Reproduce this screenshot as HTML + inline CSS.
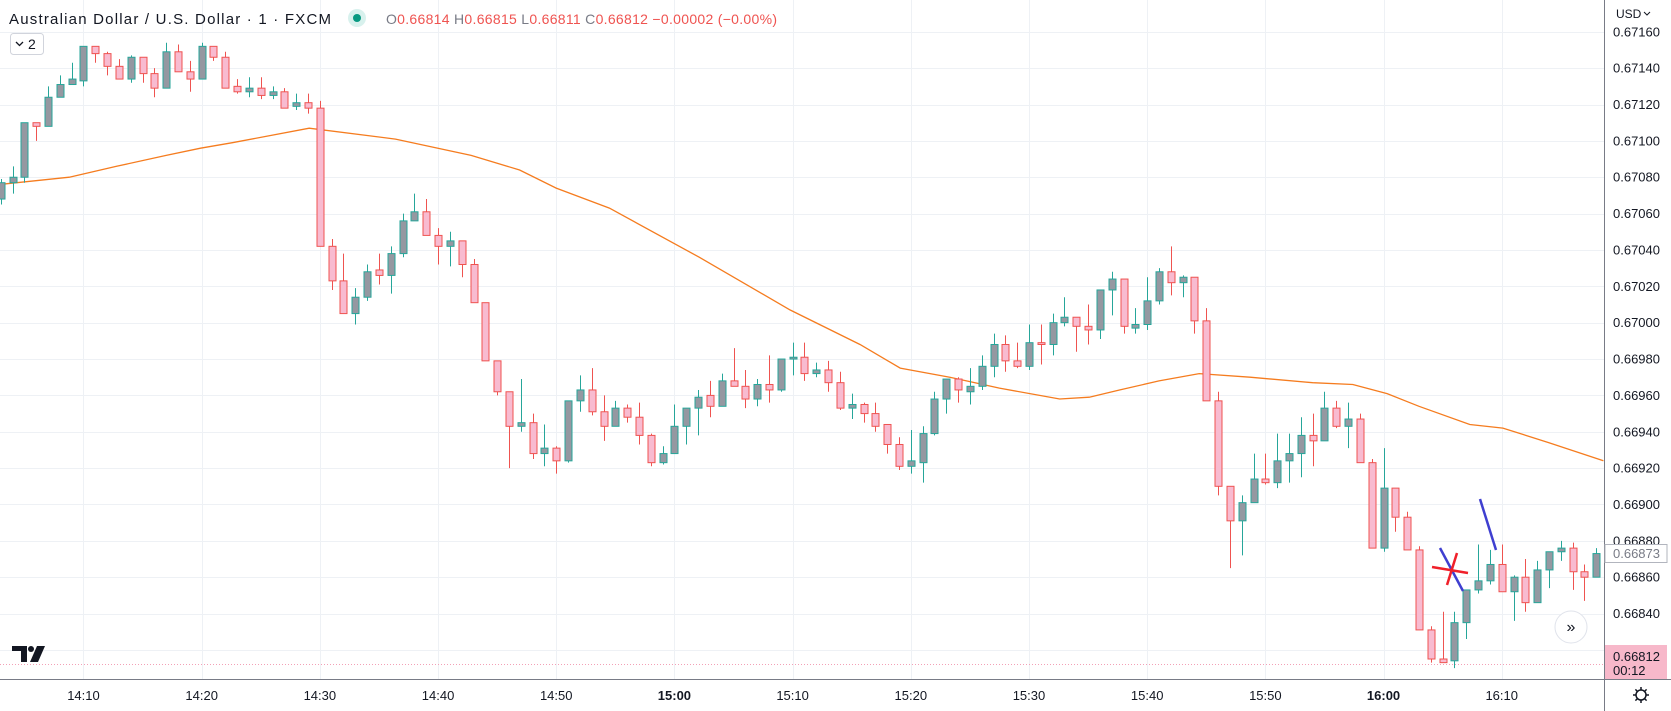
<!DOCTYPE html>
<html><head><meta charset="utf-8">
<style>
html,body{margin:0;padding:0;background:#fff;width:1671px;height:711px;overflow:hidden;font-family:"Liberation Sans",sans-serif;}
svg{display:block}
</style></head>
<body>
<svg id="chart" width="1671" height="711" viewBox="0 0 1671 711">
  <rect x="0" y="0" width="1671" height="711" fill="#fff"/>
  <g id="grid"></g>
  <line x1="0" y1="664.5" x2="1604" y2="664.5" stroke="#f3a0b6" stroke-width="1" stroke-dasharray="1,2"/>
  <g id="ma"></g>
  <g id="candles"></g>
  <g>
    <line x1="1440" y1="548" x2="1463" y2="591" stroke="#3f3fd0" stroke-width="2.5"/>
    <line x1="1480" y1="499" x2="1496" y2="550" stroke="#3f3fd0" stroke-width="2.5"/>
    <line x1="1432" y1="567" x2="1468" y2="573" stroke="#f0202a" stroke-width="2.5"/>
    <line x1="1457" y1="553" x2="1447" y2="585" stroke="#f0202a" stroke-width="2.5"/>
  </g>
  <line x1="0" y1="679.5" x2="1671" y2="679.5" stroke="#787b86" stroke-width="1"/>
  <line x1="1604.5" y1="0" x2="1604.5" y2="711" stroke="#787b86" stroke-width="1"/>
  <g id="yaxis"></g>
  <g id="xaxis"></g>
  <text x="9" y="24" font-size="15" fill="#131722" textLength="322">Australian Dollar / U.S. Dollar · 1 · FXCM</text>
  <circle cx="357" cy="18" r="9" fill="#d8f1ed"/>
  <circle cx="357" cy="18" r="4" fill="#089981"/>
  <text x="386" y="24" font-size="14" fill="#ef5350" textLength="391"><tspan fill="#787b86">O</tspan>0.66814 <tspan fill="#787b86">H</tspan>0.66815 <tspan fill="#787b86">L</tspan>0.66811 <tspan fill="#787b86">C</tspan>0.66812 −0.00002 (−0.00%)</text>
  <g>
    <rect x="10.5" y="33.5" width="33" height="21" rx="3" fill="#fff" stroke="#d1d4dc"/>
    <path d="M16 42 L19.5 45.5 L23 42" fill="none" stroke="#131722" stroke-width="1.3"/>
    <text x="28" y="49" font-size="14" fill="#131722">2</text>
  </g>
  <g>
    <path d="M12 646 H27 V662 H21 V651 H12 Z" fill="#131722"/>
    <circle cx="31" cy="649" r="3" fill="#131722"/>
    <path d="M37 646 H45 L38 662 H30 Z" fill="#131722"/>
  </g>
  <g>
    <circle cx="1571" cy="627" r="16" fill="#fff" stroke="#e0e3eb"/>
    <text x="1571" y="632" font-size="16" text-anchor="middle" fill="#131722">»</text>
  </g>
  <g>
    <text x="1616" y="18" font-size="12" fill="#131722">USD</text>
    <path d="M1644 12 L1647 15 L1650 12" fill="none" stroke="#131722" stroke-width="1"/>
  </g>
  <g>
    <rect x="1605" y="544.5" width="62" height="18" fill="#fff" stroke="#b2b5be"/>
    <text x="1613" y="558" font-size="13" fill="#787b86">0.66873</text>
  </g>
  <g>
    <rect x="1605" y="645" width="62" height="34" fill="#f7b8ca"/>
    <text x="1613" y="661" font-size="13" fill="#131722">0.66812</text>
    <text x="1613" y="675" font-size="13" fill="#131722">00:12</text>
  </g>
  <g transform="translate(1641,695)">
    <circle r="5" fill="none" stroke="#131722" stroke-width="1.5"/>
    <path d="M0-8V-5M0 5V8M-8 0H-5M5 0H8M-5.6-5.6L-3.5-3.5M3.5 3.5L5.6 5.6M-5.6 5.6L-3.5 3.5M3.5-3.5L5.6-5.6" stroke="#131722" stroke-width="1.5"/>
  </g>
</svg>
<script>
const opens=[.67068,.67077,.67080,.67110,.67108,.67124,.67131,.67133,.67152,.67148,.67141,.67134,.67146,.67137,.67129,.67149,.67138,.67134,.67152,.67146,.67130,.67127,.67129,.67125,.67127,.67119,.67121,.67118,.67042,.67023,.67005,.67014,.67029,.67026,.67038,.67056,.67061,.67048,.67042,.67045,.67032,.67011,.66979,.66962,.66943,.66945,.66928,.66931,.66924,.66957,.66963,.66951,.66943,.66953,.66948,.66938,.66923,.66928,.66943,.66953,.66960,.66954,.66968,.66965,.66958,.66966,.66963,.66980,.66981,.66972,.66974,.66967,.66953,.66955,.66950,.66944,.66933,.66921,.66923,.66939,.66958,.66969,.66962,.66965,.66976,.66988,.66979,.66976,.66989,.66988,.67000,.67003,.66998,.66996,.67018,.67024,.66997,.66999,.67012,.67028,.67022,.67025,.67001,.66957,.66910,.66891,.66901,.66914,.66912,.66924,.66928,.66938,.66935,.66953,.66943,.66947,.66923,.66876,.66909,.66893,.66875,.66831,.66815,.66814,.66835,.66853,.66858,.66867,.66852,.66860,.66846,.66864,.66874,.66876,.66863,.66860];
const highs=[.67079,.67086,.67110,.67110,.67130,.67136,.67143,.67152,.67152,.67149,.67145,.67147,.67146,.67140,.67154,.67153,.67144,.67154,.67152,.67149,.67134,.67135,.67135,.67130,.67129,.67126,.67126,.67122,.67046,.67038,.67019,.67032,.67038,.67042,.67060,.67071,.67068,.67052,.67050,.67045,.67035,.67011,.66979,.66962,.66969,.66950,.66944,.66932,.66957,.66971,.66975,.66960,.66957,.66955,.66956,.66939,.66932,.66955,.66953,.66963,.66968,.66972,.66986,.66974,.66969,.66982,.66980,.66989,.66989,.66978,.66979,.66973,.66961,.66956,.66956,.66944,.66937,.66941,.66943,.66962,.66969,.66970,.66975,.66982,.66994,.66993,.66989,.66999,.66999,.67005,.67014,.67003,.67010,.67018,.67028,.67024,.67008,.67025,.67030,.67042,.67026,.67025,.67008,.66962,.66910,.66905,.66928,.66928,.66939,.66939,.66948,.66950,.66962,.66957,.66956,.66950,.66925,.66931,.66909,.66896,.66877,.66833,.66841,.66841,.66853,.66878,.66875,.66878,.66861,.66870,.66869,.66874,.66880,.66879,.66867,.66876];
const lows=[.67065,.67071,.67077,.67100,.67108,.67124,.67131,.67130,.67143,.67136,.67134,.67132,.67132,.67124,.67129,.67138,.67127,.67134,.67144,.67129,.67126,.67124,.67123,.67123,.67118,.67117,.67115,.67042,.67018,.67005,.66999,.67012,.67021,.67016,.67036,.67056,.67048,.67032,.67031,.67025,.67011,.66979,.66960,.66920,.66940,.66925,.66921,.66917,.66923,.66951,.66949,.66935,.66943,.66945,.66933,.66921,.66922,.66928,.66933,.66938,.66948,.66954,.66965,.66953,.66954,.66956,.66962,.66971,.66968,.66970,.66962,.66952,.66947,.66945,.66940,.66928,.66919,.66917,.66912,.66938,.66950,.66956,.66955,.66963,.66970,.66973,.66975,.66974,.66977,.66982,.66998,.66984,.66988,.66991,.67004,.66994,.66994,.66996,.67010,.67015,.67014,.66994,.66957,.66905,.66865,.66872,.66901,.66911,.66909,.66912,.66915,.66921,.66935,.66942,.66931,.66923,.66876,.66874,.66885,.66875,.66831,.66813,.66813,.66810,.66826,.66851,.66856,.66852,.66836,.66841,.66846,.66854,.66869,.66853,.66847,.66860];
const closes=[.67077,.67080,.67110,.67108,.67124,.67131,.67134,.67152,.67148,.67141,.67134,.67146,.67137,.67129,.67149,.67138,.67134,.67152,.67146,.67129,.67127,.67129,.67125,.67127,.67118,.67121,.67118,.67042,.67023,.67005,.67014,.67028,.67026,.67038,.67056,.67061,.67048,.67042,.67045,.67032,.67011,.66979,.66962,.66943,.66945,.66928,.66931,.66924,.66957,.66963,.66951,.66943,.66953,.66948,.66938,.66923,.66928,.66943,.66953,.66959,.66954,.66968,.66965,.66958,.66966,.66963,.66980,.66981,.66972,.66974,.66967,.66953,.66955,.66950,.66943,.66933,.66921,.66924,.66939,.66958,.66969,.66963,.66965,.66976,.66988,.66979,.66976,.66989,.66988,.67000,.67003,.66998,.66996,.67018,.67024,.66998,.66999,.67012,.67028,.67022,.67025,.67001,.66957,.66910,.66891,.66901,.66914,.66912,.66924,.66928,.66938,.66935,.66953,.66943,.66947,.66923,.66876,.66909,.66893,.66875,.66831,.66815,.66813,.66835,.66853,.66858,.66867,.66852,.66860,.66846,.66864,.66874,.66876,.66863,.66860,.66873];
const maIndex=[-0.1,5.8,9.8,14,16.9,19.6,26.1,33.4,39.8,43.9,47,51.5,59.1,66.8,72.7,76.1,80.3,84.5,89.6,92.1,94.7,98,101.4,105.7,111,114.4,117.3,120,124.3,127.1,131,135.6];
const maValues=[.67076,.67080,.67086,.67092,.67096,.67099,.67107,.67101,.67092,.67084,.67074,.67063,.67036,.67007,.66988,.66975,.66970,.66964,.66958,.66959,.66963,.66968,.66972,.66970,.66967,.66966,.66961,.66954,.66944,.66942,.66934,.66924];
const priceTicks=[0.67160,0.67140,0.67120,0.67100,0.67080,0.67060,0.67040,0.67020,0.67000,0.66980,0.66960,0.66940,0.66920,0.66900,0.66880,0.66860,0.66840,0.66820];
const timeTickIndex=[7,17,27,37,47,57,67,77,87,97,107,117,127];
const timeTickLabels=["14:10","14:20","14:30","14:40","14:50","15:00","15:10","15:20","15:30","15:40","15:50","16:00","16:10"];

const NS="http://www.w3.org/2000/svg";
function xOf(i){return 0.76+i*11.8186;}
function yOf(p){return 31.8+(0.6716-p)/0.0002*36.36;}
function mk(tag,attrs,parent){const e=document.createElementNS(NS,tag);for(const k in attrs)e.setAttribute(k,attrs[k]);parent.appendChild(e);return e;}

const grid=document.getElementById('grid');
const yaxis=document.getElementById('yaxis');
priceTicks.forEach((p,k)=>{
  const y=Math.round(yOf(p))+0.5;
  const l=mk('line',{x1:0,x2:1604,y1:y,y2:y,stroke:'#eef1f5','stroke-width':1},grid);
  
  
  if(p>0.66830){
    const t=mk('text',{x:1613,y:yOf(p)+4.5,'font-size':13,fill:'#131722'},yaxis);
    t.textContent=p.toFixed(5);
    
    
  }
});
const xaxis=document.getElementById('xaxis');
timeTickIndex.forEach((ti,k)=>{
  const x=Math.round(xOf(ti))+0.5;
  const l=mk('line',{x1:x,x2:x,y1:0,y2:679,stroke:'#eef1f5','stroke-width':1},grid);
  
  
  const lab=timeTickLabels[k];
  const bold=lab.endsWith(':00');
  const t=mk('text',{x:xOf(ti),y:700,'font-size':13,fill:'#131722','text-anchor':'middle','font-weight':bold?'bold':'normal'},xaxis);
  t.textContent=lab;
  
  
});

const ma=document.getElementById('ma');
const pts=maIndex.map((t,k)=>xOf(t).toFixed(1)+','+yOf(maValues[k]).toFixed(1)).join(' ');
const pl=mk('polyline',{points:pts,fill:'none',stroke:'#f57c1f','stroke-width':1.3},ma);



const cg=document.getElementById('candles');
opens.forEach((o,i)=>{
  const c=closes[i],h=highs[i],l=lows[i];
  const up=c>=o;
  const x=Math.round(xOf(i))+0.5;
  const g=mk('g',{},cg);
  
  
  const wick=mk('line',{x1:x,x2:x,y1:yOf(h),y2:yOf(l),stroke:up?'#26a69a':'#ef5350','stroke-width':1},g);
  
  
  const top=yOf(Math.max(o,c)),bot=yOf(Math.min(o,c));
  const body=mk('rect',{x:x-3.5,y:top,width:7,height:Math.max(1,bot-top),fill:up?'#9598a1':'#f8bbd0',stroke:up?'#26a69a':'#ef5350','stroke-width':1},g);
  
  
});
</script>
</body></html>
